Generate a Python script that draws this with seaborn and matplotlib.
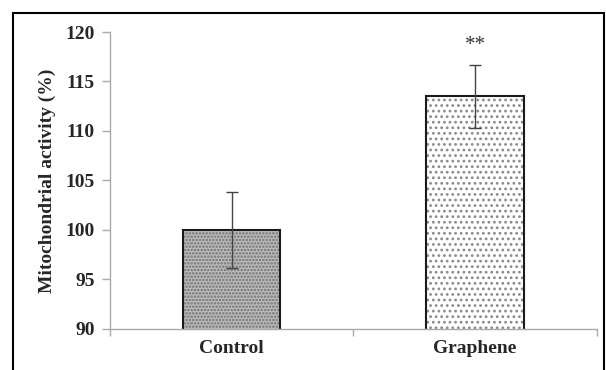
import pandas as pd
import seaborn as sns
import matplotlib.pyplot as plt
from matplotlib.patches import Rectangle

# values
groups = ['Control', 'Graphene']
activity = [100.0, 113.5]
error = [3.8, 3.2]
signif = ['', '**']

df = pd.DataFrame({'group': groups, 'activity': activity, 'error': error})

sns.set_style('white')
plt.rcParams['font.family'] = ['Liberation Serif', 'DejaVu Serif']
plt.rcParams['hatch.linewidth'] = 1.2

fig = plt.figure(figsize=(6.06, 3.70), dpi=100)
ax = fig.add_axes([0.1815, 0.111, 0.8035, 0.8025])

sns.barplot(data=df, x='group', y='activity', ax=ax, width=0.4,
            color='white', edgecolor='#1a1a1a', linewidth=1.5, errorbar=None)

# fill styles: fine dark dots on light grey, sparse grey dots on white
fills = [('#bdbdbd', '#6e6e6e', '.....'), ('white', '#8a8a8a', '...')]
for bar, (fc, hc, h) in zip(ax.patches, fills):
    bar.set_facecolor(fc)
    bar.set_hatch(h)
    bar._hatch_color = plt.matplotlib.colors.to_rgba(hc)

ax.errorbar(range(len(groups)), df['activity'], yerr=df['error'], fmt='none',
            ecolor='#444444', elinewidth=1, capsize=4, capthick=1)

for i, s in enumerate(signif):
    if s:
        ax.text(i, df['activity'][i] + df['error'][i] + 1.0, s, ha='center',
                va='bottom', fontsize=15, color='#333333')

ax.set_ylim(90, 120)
ax.set_xlim(-0.5, 1.5)
ax.set_yticks([90, 95, 100, 105, 110, 115, 120])
ax.set_xlabel('')
ax.set_ylabel('Mitochondrial activity (%)', fontsize=14, fontweight='bold', labelpad=7)
for lab in ax.get_xticklabels() + ax.get_yticklabels():
    lab.set_fontweight('bold')
    lab.set_fontsize(14)

for side in ['top', 'right']:
    ax.spines[side].set_visible(False)
for side in ['left', 'bottom']:
    ax.spines[side].set_color('#aaaaaa')
    ax.spines[side].set_linewidth(1)
ax.tick_params(axis='y', direction='out', length=6, color='#aaaaaa', width=1, left=True, pad=5)
ax.tick_params(axis='x', which='major', length=0, pad=8)
ax.set_xticks([-0.5, 0.5, 1.5], minor=True)
ax.tick_params(axis='x', which='minor', direction='out', length=5, color='#aaaaaa', width=1, bottom=True)

# outer frame
fig.patches.append(Rectangle((13 / 606, -0.1), (604 - 13) / 606, 1.1 - 13 / 370,
                             transform=fig.transFigure, fill=False,
                             edgecolor='black', linewidth=1.5))

fig.savefig('out.png', dpi=100)
